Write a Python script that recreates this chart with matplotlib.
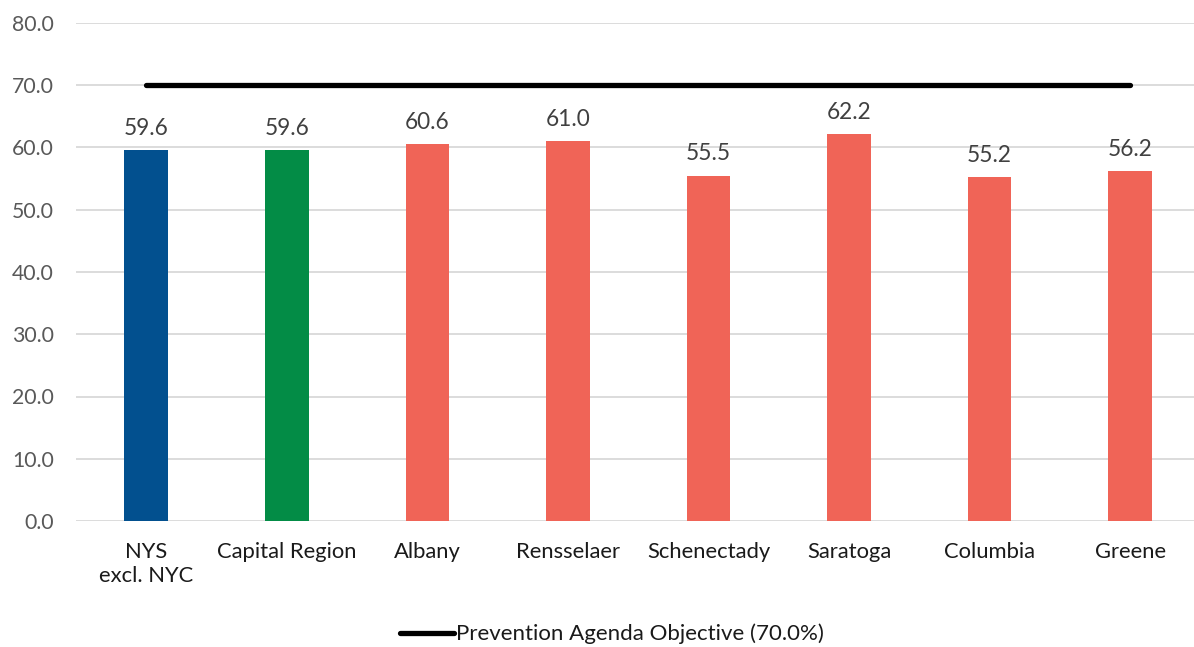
import matplotlib
matplotlib.use("Agg")
import matplotlib.pyplot as plt
from matplotlib.lines import Line2D

plt.rcParams['font.family'] = ['Lato', 'DejaVu Sans']

categories = ["NYS\nexcl. NYC", "Capital Region", "Albany", "Rensselaer",
              "Schenectady", "Saratoga", "Columbia", "Greene"]
values = [59.6, 59.6, 60.6, 61.0, 55.5, 62.2, 55.2, 56.2]
objective = [70.0] * len(categories)
colors = ["#02508F", "#038C46", "#F06457", "#F06457", "#F06457",
          "#F06457", "#F06457", "#F06457"]
yticks = [0, 10, 20, 30, 40, 50, 60, 70, 80]

W, H = 1194, 647
fig = plt.figure(figsize=(W / 100, H / 100), dpi=100)
ax = fig.add_axes([76 / W, 1 - 521 / H, (1194 - 76) / W, (521 - 23) / H])

x = list(range(len(categories)))
ax.bar(x, values, width=0.31, color=colors, zorder=2)
ax.plot(x, objective, color="black", lw=3.8, solid_capstyle="round", zorder=3)

for xi, v in zip(x, values):
    ax.annotate(f"{v:.1f}", (xi, v), xytext=(0, 8), textcoords="offset points",
                ha="center", va="bottom", fontsize=16.3, color="#404040")

ax.set_ylim(0, 80)
ax.set_xlim(-0.5, (1194 - 146) / 140.6)
ax.set_yticks(yticks)
ax.set_yticklabels([f"{t:.1f}" for t in yticks], fontsize=15.3, color="#595959")
ax.set_xticks(x)
ax.set_xticklabels(categories, fontsize=15.8, color="#1a1a1a", linespacing=1.25)
ax.tick_params(axis="both", length=0)
ax.tick_params(axis="x", pad=15)
ax.tick_params(axis="y", pad=16)
ax.yaxis.grid(True, color="#D9D9D9", lw=1.3, zorder=0)
ax.set_axisbelow(True)
for s in ax.spines.values():
    s.set_visible(False)

handle = Line2D([], [], color="black", lw=3.8, solid_capstyle="round")
fig.legend([handle], ["Prevention Agenda Objective (70.0%)"],
           loc="center", bbox_to_anchor=(612 / W, 1 - 634 / H), frameon=False,
           fontsize=16, handlelength=2.4, handletextpad=0.1,
           labelcolor="#1a1a1a")

fig.savefig("out.png", dpi=100)
